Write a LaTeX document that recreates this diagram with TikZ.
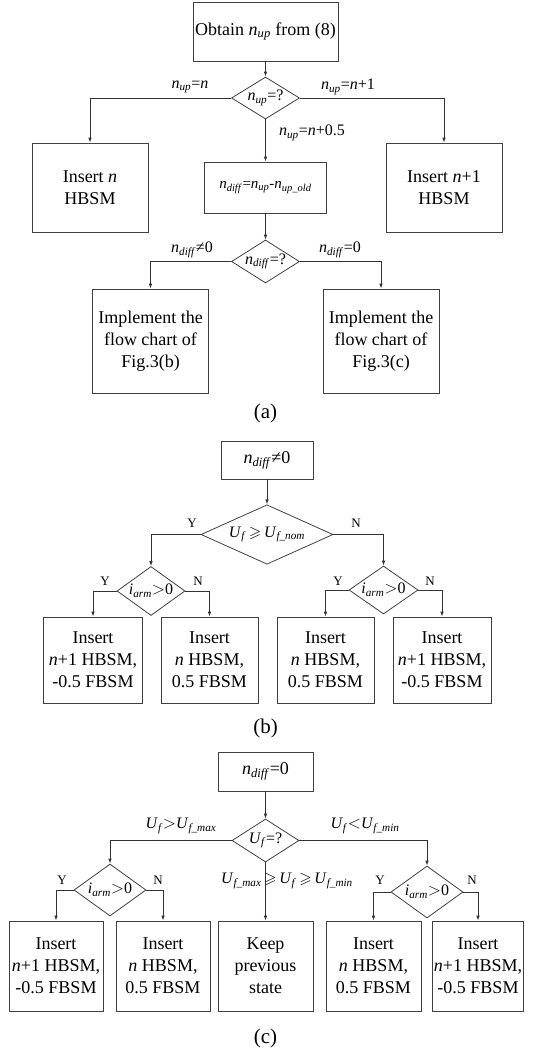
\documentclass[tikz,border=0pt]{standalone}
\usepackage{amssymb}
\usepackage{fontspec}
\setmainfont{Liberation Serif}
\usetikzlibrary{shapes.geometric,arrows.meta}
\newcommand{\vs}[2]{\textit{#1}\textsubscript{\textit{#2}}}
\tikzset{
  box/.style={draw=black!75, line width=0.8pt, align=center, inner sep=0pt,
    font=\fontsize{18}{22}\selectfont},
  dia/.style={draw=black!75, line width=0.8pt, diamond, inner sep=-8pt,
    font=\fontsize{16}{18}\selectfont},
  lbl/.style={font=\fontsize{16}{18}\selectfont, inner sep=0pt},
  yn/.style={font=\fontsize{13}{15}\selectfont, inner sep=0pt},
  captxt/.style={font=\fontsize{21}{24}\selectfont, inner sep=0pt},
  arr/.style={draw=black!80, line width=0.8pt, -{Latex[length=5pt,width=3.6pt]}}
}
\begin{document}
\begin{tikzpicture}[x=1pt,y=-1pt]
\useasboundingbox (0,0) rectangle (545,1050);
% ---------- (a) ----------
\node[box, minimum width=145pt, minimum height=59pt] (a0) at (265.5,31.5) {Obtain \vs{n}{up} from (8)};
\node[dia, minimum width=68pt, minimum height=42pt] (ad1) at (265.5,98) {\vs{n}{up}=?};
\node[box, minimum width=116pt, minimum height=89pt] (al) at (90,187.5) {Insert \textit{n}\\HBSM};
\node[box, minimum width=116pt, minimum height=89pt] (ar) at (444,187.5) {Insert \textit{n}+1\\HBSM};
\node[box, minimum width=122pt, minimum height=51pt, font=\fontsize{15}{18}\selectfont] (am) at (265.5,187.5) {\vs{n}{diff}=\vs{n}{up}-\vs{n}{up\_old}};
\node[dia, minimum width=68pt, minimum height=43pt] (ad2) at (265.5,261.5) {\vs{n}{diff}=?};
\node[box, minimum width=116pt, minimum height=104pt] (abl) at (150.5,341) {Implement the\\flow chart of\\Fig.3(b)};
\node[box, minimum width=116pt, minimum height=104pt] (abr) at (381,341) {Implement the\\flow chart of\\Fig.3(c)};
\draw[arr] (a0) -- (ad1);
\draw[arr] (ad1.west) -| (al.north);
\draw[arr] (ad1.east) -| (ar.north);
\draw[arr] (ad1) -- (am);
\draw[arr] (am) -- (ad2);
\draw[arr] (ad2.west) -| (abl.north);
\draw[arr] (ad2.east) -| (abr.north);
\node[lbl] (la1) at (190,87) {\vs{n}{up}=\textit{n}};
\node[lbl] (la2) at (348,87) {\vs{n}{up}=\textit{n}+1};
\node[lbl] (la3) at (312,133) {\vs{n}{up}=\textit{n}+0.5};
\node[lbl] (la4) at (192,250) {\vs{n}{diff}≠0};
\node[lbl] (la5) at (340,250) {\vs{n}{diff}=0};
\node[captxt] (capa) at (265.5,413) {(a)};
% ---------- (b) ----------
\node[box, minimum width=92pt, minimum height=38pt] (b0) at (267,460) {\vs{n}{diff}≠0};
\node[dia, minimum width=132pt, minimum height=57pt] (bd) at (267,534.5) {\vs{U}{f}\,$\geqslant$\,\vs{U}{f\_nom}};
\node[dia, minimum width=68pt, minimum height=49pt] (bdl) at (151,591) {\vs{i}{arm}$>$0};
\node[dia, minimum width=69pt, minimum height=48pt] (bdr) at (383.5,590) {\vs{i}{arm}$>$0};
\node[box, minimum width=99pt, minimum height=86pt] (b1) at (93,660) {Insert\\\textit{n}+1 HBSM,\\-0.5 FBSM};
\node[box, minimum width=97pt, minimum height=86pt] (b2) at (209.5,660) {Insert\\\textit{n} HBSM,\\0.5 FBSM};
\node[box, minimum width=97pt, minimum height=86pt] (b3) at (325.5,660) {Insert\\\textit{n} HBSM,\\0.5 FBSM};
\node[box, minimum width=98pt, minimum height=86pt] (b4) at (442,660) {Insert\\\textit{n}+1 HBSM,\\-0.5 FBSM};
\draw[arr] (b0) -- (bd);
\draw[arr] (bd.west) -| (bdl.north);
\draw[arr] (bd.east) -| (bdr.north);
\draw[arr] (bdl.west) -| (b1.north);
\draw[arr] (bdl.east) -| (b2.north);
\draw[arr] (bdr.west) -| (b3.north);
\draw[arr] (bdr.east) -| (b4.north);
\node[yn] (by1) at (192,523) {Y};
\node[yn] (bn1) at (356,523) {N};
\node[yn] (by2) at (105,581) {Y};
\node[yn] (bn2) at (198,581) {N};
\node[yn] (by3) at (338,581) {Y};
\node[yn] (bn3) at (430,581) {N};
\node[captxt] (capb) at (265.5,728) {(b)};
% ---------- (c) ----------
\node[box, minimum width=95pt, minimum height=39pt] (c0) at (265.5,771.5) {\vs{n}{diff}=0};
\node[dia, minimum width=67pt, minimum height=43pt] (cd) at (265.5,840.5) {\vs{U}{f}=?};
\node[dia, minimum width=72pt, minimum height=52pt] (cdl) at (110,890) {\vs{i}{arm}$>$0};
\node[dia, minimum width=72pt, minimum height=52pt] (cdr) at (427,892) {\vs{i}{arm}$>$0};
\node[box, minimum width=94pt, minimum height=90pt] (c1) at (56,966) {Insert\\\textit{n}+1 HBSM,\\-0.5 FBSM};
\node[box, minimum width=94pt, minimum height=90pt] (c2) at (163,966) {Insert\\\textit{n} HBSM,\\0.5 FBSM};
\node[box, minimum width=95pt, minimum height=90pt] (c3) at (265.5,966) {Keep\\previous\\state};
\node[box, minimum width=95pt, minimum height=90pt] (c4) at (373.5,966) {Insert\\\textit{n} HBSM,\\0.5 FBSM};
\node[box, minimum width=91pt, minimum height=90pt] (c5) at (478,966) {Insert\\\textit{n}+1 HBSM,\\-0.5 FBSM};
\draw[arr] (c0) -- (cd);
\draw[arr] (cd.west) -| (cdl.north);
\draw[arr] (cd.east) -| (cdr.north);
\draw[arr] (cd) -- (c3);
\draw[arr] (cdl.west) -| (c1.north);
\draw[arr] (cdl.east) -| (c2.north);
\draw[arr] (cdr.west) -| (c4.north);
\draw[arr] (cdr.east) -| (c5.north);
\node[lbl] (lc1) at (181,826) {\vs{U}{f}$>$\vs{U}{f\_max}};
\node[lbl] (lc2) at (365,826) {\vs{U}{f}$<$\vs{U}{f\_min}};
\node[lbl] (lc3) at (287,881) {\vs{U}{f\_max}\,$\geqslant$\,\vs{U}{f}\,$\geqslant$\,\vs{U}{f\_min}};
\node[yn] (cy1) at (62,880) {Y};
\node[yn] (cn1) at (158,880) {N};
\node[yn] (cy2) at (380,880) {Y};
\node[yn] (cn2) at (472,880) {N};
\node[captxt] (capc) at (265.5,1038) {(c)};
\end{tikzpicture}
\end{document}
